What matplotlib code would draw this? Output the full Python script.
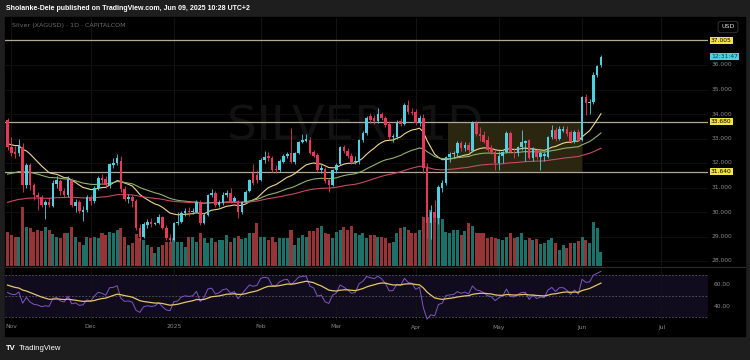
import numpy as np
import pandas as pd
import matplotlib
matplotlib.use("Agg")
import matplotlib.pyplot as plt
from matplotlib.patches import Rectangle
from matplotlib.transforms import blended_transform_factory as blend

# ---------------- data ----------------
start_date = "2024-10-31"
open_ = [33.75, 32.65, 32.45, 32.40, 32.65, 31.10, 31.90, 31.10, 30.70, 30.60,
         30.30, 30.40, 30.25, 31.15, 31.25, 30.85, 30.70, 31.30, 30.25, 30.40,
         30.00, 30.10, 30.60, 30.45, 31.00, 31.40, 31.35, 31.10, 31.90, 32.00,
         32.10, 30.95, 30.55, 30.60, 30.45, 29.35, 29.00, 29.45, 29.60, 29.50,
         29.55, 29.80, 29.35, 28.95, 28.85, 29.55, 29.60, 29.95, 30.05, 30.00,
         30.00, 30.40, 29.55, 29.88, 30.69, 30.78, 30.28, 30.35, 30.70, 30.78,
         30.45, 30.45, 30.00, 30.40, 30.85, 31.60, 31.50, 31.30, 32.12, 32.30,
         32.20, 31.75, 31.70, 32.05, 32.30, 32.40, 32.05, 32.40, 32.86, 32.90,
         32.94, 32.45, 32.33, 31.70, 31.75, 31.30, 31.12, 31.70, 31.95, 32.67,
         32.50, 32.30, 32.05, 32.05, 32.94, 33.22, 33.90, 33.85, 33.70, 34.00,
         33.84, 33.60, 33.05, 33.05, 33.70, 33.60, 34.37, 34.10, 34.10, 33.63,
         33.85, 31.80, 29.55, 30.00, 29.75, 31.00, 31.20, 32.25, 32.35, 32.40,
         32.80, 32.60, 32.75, 32.50, 33.63, 33.20, 33.15, 32.94, 32.60, 32.46,
         32.00, 32.30, 32.46, 33.22, 32.46, 32.40, 32.65, 32.80, 32.94, 32.20,
         32.53, 32.26, 32.30, 32.26, 33.07, 33.34, 33.00, 33.32, 33.40, 33.27,
         32.87, 33.27, 32.94, 34.70, 34.44, 34.50, 35.60, 36.00]
high = [33.85, 33.05, 32.70, 33.00, 32.80, 32.00, 32.00, 31.20, 30.80, 30.70,
        30.50, 30.60, 31.30, 31.45, 31.35, 31.00, 31.45, 31.40, 30.55, 30.50,
        30.25, 30.70, 30.70, 31.05, 31.45, 31.55, 31.45, 32.00, 32.20, 32.35,
        32.30, 31.05, 30.75, 30.70, 30.55, 29.50, 29.60, 29.70, 29.75, 29.60,
        29.90, 29.85, 29.45, 29.10, 29.60, 30.00, 30.05, 30.15, 30.20, 30.15,
        30.50, 30.50, 29.95, 30.75, 30.95, 30.85, 30.50, 30.80, 30.90, 30.97,
        30.65, 30.50, 30.45, 30.90, 31.35, 31.95, 31.70, 32.20, 32.50, 32.45,
        32.30, 31.90, 32.15, 32.35, 32.45, 33.42, 32.45, 32.90, 33.20, 33.20,
        33.05, 32.55, 32.40, 31.90, 31.85, 31.35, 31.75, 32.00, 32.70, 32.75,
        32.60, 32.40, 32.30, 33.00, 33.30, 33.90, 34.04, 33.95, 34.24, 34.10,
        33.90, 33.70, 33.20, 33.75, 33.85, 34.45, 34.57, 34.25, 34.20, 33.95,
        34.00, 32.00, 30.30, 30.50, 31.10, 31.30, 32.30, 32.45, 32.50, 32.90,
        32.90, 32.85, 32.85, 33.70, 33.70, 33.45, 33.30, 33.10, 32.75, 32.55,
        32.50, 32.50, 33.30, 33.30, 32.60, 32.70, 33.35, 32.95, 33.00, 32.65,
        32.60, 32.50, 32.45, 33.10, 33.55, 33.45, 33.50, 33.50, 33.50, 33.35,
        33.35, 33.40, 34.75, 34.80, 34.60, 35.70, 36.00, 36.40]
low = [32.55, 32.30, 32.20, 32.30, 30.80, 31.00, 30.90, 30.50, 30.10, 30.20,
       29.70, 30.20, 30.20, 31.00, 30.70, 30.60, 30.60, 30.20, 30.00, 29.95,
       29.65, 30.00, 30.30, 30.35, 30.90, 31.20, 31.00, 31.00, 31.80, 31.90,
       30.80, 30.45, 30.35, 30.20, 29.25, 28.80, 28.95, 29.35, 29.40, 29.45,
       29.50, 29.30, 28.85, 28.75, 28.80, 29.45, 29.55, 29.85, 29.85, 29.90,
       29.95, 29.45, 29.50, 29.85, 30.60, 30.20, 30.20, 30.30, 30.60, 30.35,
       30.40, 29.75, 29.90, 30.35, 30.80, 31.10, 31.20, 31.25, 32.00, 32.10,
       31.65, 31.60, 31.65, 32.00, 32.20, 32.00, 31.95, 32.35, 32.80, 32.85,
       32.35, 32.25, 31.65, 31.60, 31.20, 30.83, 31.05, 31.60, 31.90, 32.40,
       32.20, 31.95, 31.95, 31.95, 32.85, 33.15, 33.65, 33.60, 33.65, 33.75,
       33.45, 32.95, 32.85, 33.00, 33.50, 33.55, 34.00, 33.95, 33.55, 33.50,
       31.60, 28.95, 28.90, 29.60, 29.50, 30.80, 31.10, 32.05, 32.20, 32.30,
       32.50, 32.50, 32.45, 32.45, 33.10, 32.90, 32.80, 32.45, 32.35, 31.70,
       31.70, 32.00, 32.40, 32.40, 32.20, 32.30, 32.55, 32.10, 32.15, 32.10,
       32.15, 31.70, 32.10, 32.20, 33.00, 32.90, 32.95, 33.25, 33.10, 32.80,
       32.80, 32.90, 32.90, 33.96, 34.00, 34.40, 35.50, 35.90]
close = [32.65, 32.40, 32.35, 32.70, 31.10, 31.90, 31.10, 30.70, 30.60, 30.30,
         30.40, 30.30, 31.20, 31.30, 30.85, 30.70, 31.35, 30.30, 30.40, 30.05,
         30.10, 30.60, 30.45, 30.98, 31.40, 31.30, 31.10, 31.95, 32.00, 32.20,
         30.95, 30.55, 30.60, 30.45, 29.35, 29.00, 29.50, 29.60, 29.50, 29.55,
         29.80, 29.35, 28.95, 28.85, 29.55, 29.60, 29.95, 30.05, 30.00, 30.05,
         30.40, 29.55, 29.88, 30.69, 30.78, 30.28, 30.40, 30.70, 30.78, 30.45,
         30.58, 30.00, 30.40, 30.83, 31.30, 31.20, 31.30, 32.12, 32.25, 32.20,
         31.71, 31.70, 32.10, 32.30, 32.38, 32.05, 32.40, 32.86, 32.95, 33.00,
         32.41, 32.30, 31.71, 31.80, 31.25, 31.10, 31.71, 31.90, 32.67, 32.50,
         32.30, 32.05, 32.10, 32.94, 33.22, 33.84, 33.76, 33.70, 34.00, 33.84,
         33.55, 33.05, 33.10, 33.67, 33.60, 34.37, 34.10, 34.04, 33.63, 33.84,
         31.80, 29.55, 30.00, 29.75, 31.03, 31.20, 32.25, 32.35, 32.40, 32.80,
         32.60, 32.75, 32.55, 33.63, 33.20, 33.10, 32.87, 32.55, 32.45, 32.00,
         32.30, 32.46, 33.22, 32.46, 32.40, 32.65, 32.85, 32.88, 32.20, 32.60,
         32.26, 32.40, 32.35, 33.07, 33.34, 33.00, 33.40, 33.40, 33.20, 32.87,
         33.27, 32.94, 34.70, 34.44, 34.50, 35.60, 35.94, 36.34]
volume_k = [34, 31, 29, 29, 59, 39, 38, 34, 36, 35, 39, 36, 32, 29, 28, 33, 33, 39,
            29, 24, 21, 29, 28, 29, 28, 33, 31, 34, 33, 36, 38, 29, 21, 23, 32, 28,
            26, 21, 19, 13, 19, 21, 24, 24, 28, 24, 24, 19, 29, 29, 24, 33, 28, 23,
            28, 24, 26, 26, 31, 24, 28, 30, 27, 28, 33, 33, 43, 29, 29, 26, 29, 24,
            28, 28, 28, 36, 21, 28, 31, 29, 35, 35, 38, 40, 33, 32, 28, 34, 36, 39,
            36, 40, 33, 31, 33, 28, 31, 31, 29, 29, 28, 23, 24, 33, 38, 39, 36, 33,
            33, 36, 49, 49, 56, 54, 49, 47, 34, 33, 36, 36, 31, 35, 43, 40, 33, 33,
            33, 28, 29, 28, 27, 26, 29, 33, 28, 29, 33, 26, 28, 26, 27, 22, 23, 26,
            28, 23, 16, 21, 18, 23, 23, 25, 29, 26, 23, 44, 38, 14]

# moving-average levels at the left edge of the chart
ema_lengths = [20, 50, 100]
ema_start_levels = [32.8, 31.5, 30.35]
ema_colors = ["#f0d78c", "#8fb26c", "#c84a64"]
rsi_length = 14
rsi_start_gain_loss = (0.32, 0.20)
rsi_ma_start = 61.0

levels = [37.005, 33.680, 31.640]
level_labels = ["37.005", "33.680", "31.640"]
box_dates = ["2025-04-11", "2025-06-02"]
price_ticks = [28, 29, 30, 31, 32, 33, 34, 35, 36]
rsi_ticks = [60, 40]
countdown = "12:31:47"

# ---------------- derived series ----------------
o = np.array(open_); h = np.array(high); l = np.array(low); c = np.array(close)
n = len(c)
idx = np.arange(n)
dates = pd.bdate_range(start_date, periods=n)
ext_dates = pd.bdate_range(start_date, "2025-07-31")
up = c >= o

def ema(vals, span, seed):
    s = pd.Series(np.r_[seed, vals])
    return s.ewm(span=span, adjust=False).mean().to_numpy()[1:]

prev = np.r_[o[0], c[:-1]]
delta = c - prev
ag, al = rsi_start_gain_loss
rsi = []
for d in delta:
    ag = (ag * (rsi_length - 1) + max(d, 0)) / rsi_length
    al = (al * (rsi_length - 1) + max(-d, 0)) / rsi_length
    rsi.append(100 - 100 / (1 + ag / al))
rsi = np.array(rsi)
rsi_ma = ema(rsi, 14, rsi_ma_start)

# ---------------- figure ----------------
W, H = 750, 360
fig = plt.figure(figsize=(7.5, 3.6), dpi=100, facecolor="#1e1e1e")

def fx(px): return px / W
def fy(py): return 1 - py / H

fig.patches.append(Rectangle((fx(5), fy(336)), fx(740), (336 - 17) / H,
                             transform=fig.transFigure, color="#000000", zorder=-10))

per_bar = 3.78
xmin = -2.5 / per_bar
xmax = xmin + 703 / per_bar

# volume axes (behind price)
axv = fig.add_axes([fx(5), fy(266), fx(703), 248 / H], zorder=1)
axv.set_facecolor("none")
axv.set_xlim(xmin, xmax)
axv.set_ylim(0, 248)
axv.axis("off")

# price pane
ax = fig.add_axes([fx(5), fy(266), fx(703), 248 / H], zorder=2)
ax.set_facecolor("none")
ax.set_xlim(xmin, xmax)
ax.set_ylim(28 - 5 / 24.5, 28 + 243 / 24.5)
for s in ax.spines.values():
    s.set_visible(False)
ax.set_xticks([]); ax.set_yticks([])

# month grid
month_first = ext_dates.to_series().groupby([ext_dates.year, ext_dates.month]).first()
month_pos = [ext_dates.get_loc(d) for d in month_first.values][1:]
month_lab = []
for d in month_first.values[1:]:
    d = pd.Timestamp(d)
    month_lab.append(str(d.year) if d.month == 1 else d.strftime("%b"))

for p in month_pos:
    axv.axvline(p, color="#121212", lw=0.8, zorder=0)
for p in price_ticks:
    axv.axhline((p - (28 - 5 / 24.5)) * 24.5, color="#0e0e0e", lw=0.8, zorder=0)

# watermark
axv.text((355 - 5) / 703, (266 - 127) / 248, "SILVER, 1D", transform=axv.transAxes,
         ha="center", va="center", fontsize=34, color="#121212", zorder=0.5)

vcol = np.where(up, "#1c7169", "#963437")
axv.bar(idx, volume_k, width=0.8, color=vcol, linewidth=0, zorder=1)

# box drawing
b0 = dates.get_loc(pd.Timestamp(box_dates[0])) + 0.5
b1 = dates.get_loc(pd.Timestamp(box_dates[1]))
ax.add_patch(Rectangle((b0, levels[2]), b1 - b0, levels[1] - levels[2],
                       facecolor="#2b2610", edgecolor="none", zorder=1))

# horizontal levels
for lv in levels:
    ax.axhline(lv, color="#b0aa94", lw=0.9, zorder=2)

# EMAs
for L, s0, col in zip(ema_lengths, ema_start_levels, ema_colors):
    ax.plot(idx, ema(c, L, s0), color=col, lw=0.8, zorder=3)

# candles
ccol = np.where(up, "#4fd0e2", "#e8385a")
ax.vlines(idx, l, h, colors=ccol, lw=0.6, zorder=4)
body = np.maximum(np.abs(c - o), 0.03)
ax.bar(idx, body, bottom=np.minimum(o, c), width=0.68, color=ccol, linewidth=0, zorder=5)

# price axis labels
tr = blend(fig.transFigure, ax.transData)
for p in price_ticks:
    ax.text(fx(712), p, f"{p:.3f}", transform=tr, fontsize=4.3, color="#8a8a8a",
            va="center", ha="left", clip_on=False)
for lv, lab in zip(levels, level_labels):
    ax.text(fx(711), lv, lab, transform=tr, fontsize=4.3, color="#000000",
            va="center", ha="left", clip_on=False,
            bbox=dict(boxstyle="square,pad=0.18", fc="#f3e24a", ec="none"))
ax.text(fx(711), c[-1], countdown, transform=tr, fontsize=4.3, color="#0b3d47",
        va="center", ha="left", clip_on=False,
        bbox=dict(boxstyle="square,pad=0.18", fc="#4fd0e2", ec="none"))

# RSI pane
axr = fig.add_axes([fx(5), fy(320), fx(703), 52 / H], zorder=2)
axr.set_facecolor("none")
axr.set_xlim(xmin, xmax)
axr.set_ylim(50 - 24.5 / 1.05, 50 + 27.5 / 1.05)
for s in axr.spines.values():
    s.set_visible(False)
axr.set_xticks([]); axr.set_yticks([])
axr.axhspan(30, 70, color="#100c1d", zorder=0, lw=0)
for p in month_pos:
    axr.axvline(p, color="#121212", lw=0.8, zorder=0.5)
for lvl in (70, 50, 30):
    axr.axhline(lvl, color="#5a5a66", lw=0.6, ls=(0, (2, 2)), zorder=1)
axr.plot(idx, rsi, color="#7e57c2", lw=0.7, zorder=3)
axr.plot(idx, rsi_ma, color="#e6c46a", lw=0.9, zorder=4)
trr = blend(fig.transFigure, axr.transData)
for p in rsi_ticks:
    axr.text(fx(714), p, f"{p:.2f}", transform=trr, fontsize=4.3, color="#8a8a8a",
             va="center", ha="left", clip_on=False)

# pane separator
fig.add_artist(plt.Line2D([fx(5), fx(745)], [fy(267), fy(267)], color="#2a2a2a", lw=0.8))

# date labels
trd = blend(axr.transData, fig.transFigure)
for p, lab in zip(month_pos, month_lab):
    axr.text(p, fy(327), lab, transform=trd, fontsize=4.3, color="#8a8a8a",
             ha="center", va="center", clip_on=False)

# header / legend / footer
fig.text(fx(6), fy(9), "Sholanke-Dele published on TradingView.com, Jun 09, 2025 10:28 UTC+2",
         color="#ffffff", fontsize=5, fontweight="bold", va="center", ha="left",
         family="Liberation Sans")
fig.text(fx(12), fy(26), "Silver (XAGUSD) · 1D · CAPITALCOM", color="#6c6c6c",
         fontsize=4.6, va="center", ha="left")
fig.text(fx(728), fy(27), "USD", color="#dddddd", fontsize=4.6, va="center", ha="center",
         bbox=dict(boxstyle="round,pad=0.5,rounding_size=0.4", fc="#000000", ec="#3a3a3a", lw=0.6))
fig.text(fx(6), fy(349), "TV", color="#ffffff", fontsize=5.5, fontweight="bold",
         va="center", ha="left", family="Liberation Sans")
fig.text(fx(19), fy(349), "TradingView", color="#ffffff", fontsize=5.5,
         va="center", ha="left", family="Liberation Sans")

fig.savefig("out.png", dpi=100, facecolor=fig.get_facecolor())
